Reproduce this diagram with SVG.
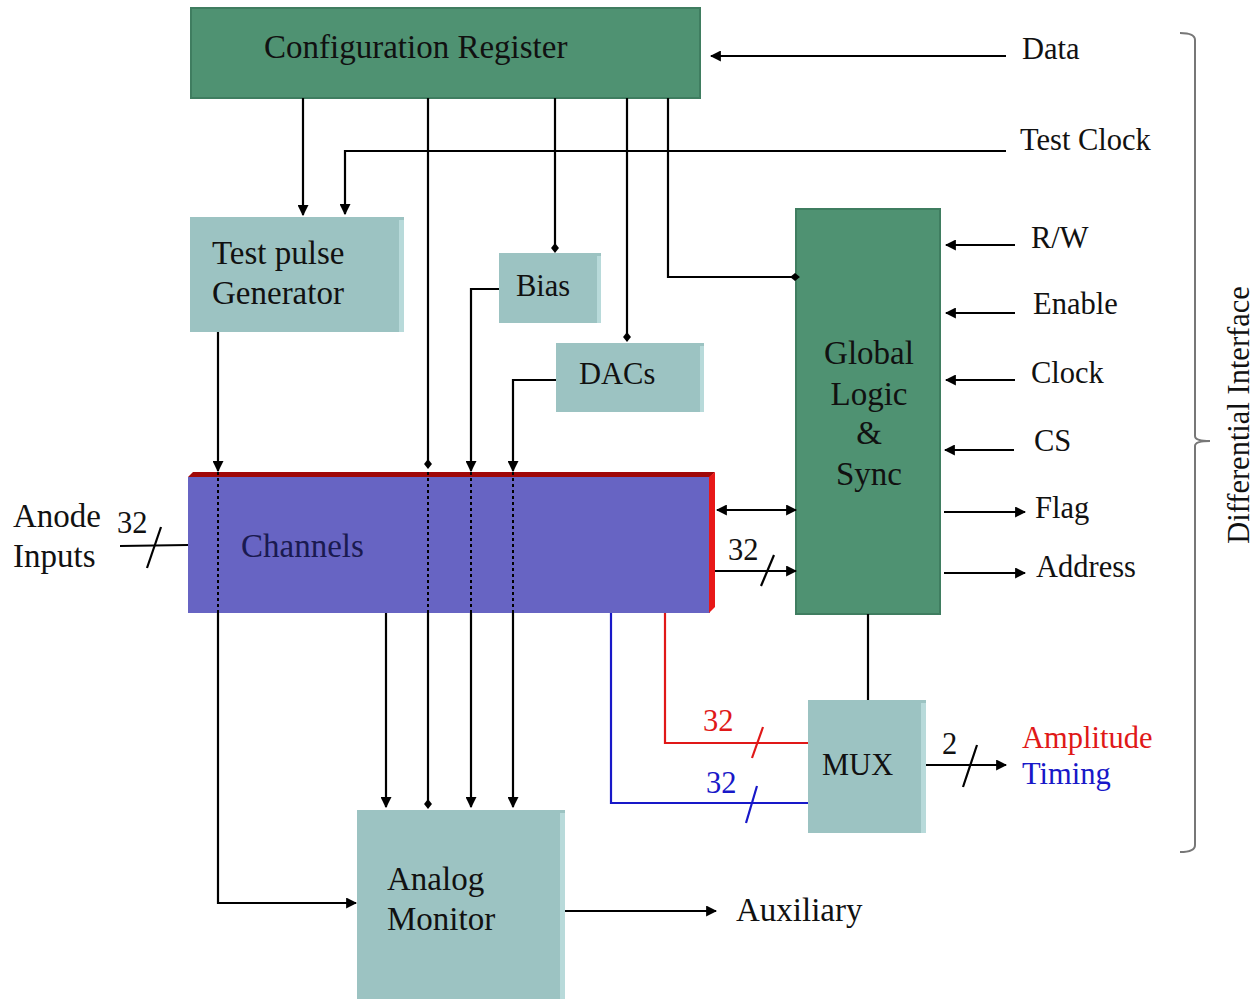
<svg xmlns="http://www.w3.org/2000/svg" width="1260" height="999" viewBox="0 0 1260 999">
<style>
text{font-family:"Liberation Serif","Times New Roman",serif;fill:#111;}
.lbl{font-size:30.5px;}
.big{font-size:33px;}
.green{fill:#4f9272;stroke:#3f7d60;stroke-width:2;}
.teal{fill:#9cc3c2;}
.bevel{fill:#b8dada;}
.ln{stroke:#000;stroke-width:2.2;fill:none;}
.dot{stroke:#000;stroke-width:2;fill:none;stroke-dasharray:3 3;}
.red{stroke:#e01818;stroke-width:2.2;fill:none;}
.blue{stroke:#1818c8;stroke-width:2.2;fill:none;}
</style>
<defs>
<marker id="ar" viewBox="0 0 10 10" refX="9" refY="5" markerWidth="5" markerHeight="5" orient="auto-start-reverse"><path d="M0,0 L10,5 L0,10 z" fill="#000"/></marker>
<marker id="dm" viewBox="0 0 10 10" refX="8" refY="5" markerWidth="4.5" markerHeight="4.5" orient="auto"><path d="M0,5 L5,1 L10,5 L5,9 z" fill="#000"/></marker>
</defs>
<rect width="1260" height="999" fill="#fff"/>

<g id="config">
<rect class="green" x="191" y="8" width="509" height="90"/>
<text class="big" x="264" y="58" style="font-size:33px">Configuration Register</text>
</g>

<g id="testpulse">
<rect class="teal" x="190" y="217" width="214" height="115"/>
<rect class="bevel" x="399" y="220" width="5" height="112"/>
<text class="big" x="212" y="264">Test pulse</text>
<text class="big" x="212" y="304">Generator</text>
</g>

<g id="bias">
<rect class="teal" x="499" y="253" width="102" height="70"/>
<rect class="bevel" x="597" y="256" width="4" height="67"/>
<text class="lbl" x="516" y="296">Bias</text>
</g>

<g id="dacs">
<rect class="teal" x="556" y="343" width="148" height="69"/>
<rect class="bevel" x="700" y="346" width="4" height="66"/>
<text class="lbl" x="579" y="384">DACs</text>
</g>

<g id="channels">
<rect x="188" y="477" width="522" height="136" fill="#6764c3"/>
<polygon points="188,477 193,472 715,472 710,477" fill="#a00808"/>
<polygon points="709,477 715,472 715,607 709,613" fill="#e81818"/>
<text class="big" x="241" y="557" style="fill:#1a1a50">Channels</text>
</g>

<g id="global">
<rect class="green" x="796" y="209" width="144" height="405"/>
<text class="big" x="869" y="364" text-anchor="middle">Global</text>
<text class="big" x="869" y="405" text-anchor="middle">Logic</text>
<text class="big" x="869" y="444" text-anchor="middle">&amp;</text>
<text class="big" x="869" y="485" text-anchor="middle">Sync</text>
</g>

<g id="mux">
<rect class="teal" x="808" y="700" width="118" height="133"/>
<rect class="bevel" x="921" y="703" width="5" height="130"/>
<text class="lbl" x="822" y="775">MUX</text>
</g>

<g id="analog">
<rect class="teal" x="357" y="810" width="208" height="189"/>
<rect class="bevel" x="560" y="813" width="5" height="186"/>
<text class="big" x="387" y="890">Analog</text>
<text class="big" x="387" y="930">Monitor</text>
</g>

<g id="connectors">
<line class="ln" x1="1006" y1="56" x2="711" y2="56" marker-end="url(#ar)"/>
<polyline class="ln" points="1006,151 345,151 345,214" marker-end="url(#ar)"/>
<line class="ln" x1="303" y1="98" x2="303" y2="215" marker-end="url(#ar)"/>
<line class="ln" x1="428" y1="98" x2="428" y2="467" marker-end="url(#dm)"/>
<line class="dot" x1="428" y1="472" x2="428" y2="613"/>
<line class="ln" x1="428" y1="613" x2="428" y2="807" marker-end="url(#dm)"/>
<line class="ln" x1="555" y1="98" x2="555" y2="251" marker-end="url(#dm)"/>
<line class="ln" x1="627" y1="98" x2="627" y2="340" marker-end="url(#dm)"/>
<polyline class="ln" points="668,98 668,277 798,277" marker-end="url(#dm)"/>
<line class="ln" x1="218" y1="332" x2="218" y2="471" marker-end="url(#ar)"/>
<line class="dot" x1="218" y1="472" x2="218" y2="613"/>
<polyline class="ln" points="218,613 218,903 356,903" marker-end="url(#ar)"/>
<polyline class="ln" points="499,289 471,289 471,471" marker-end="url(#ar)"/>
<line class="dot" x1="471" y1="472" x2="471" y2="613"/>
<line class="ln" x1="471" y1="613" x2="471" y2="807" marker-end="url(#ar)"/>
<polyline class="ln" points="556,380 513,380 513,471" marker-end="url(#ar)"/>
<line class="dot" x1="513" y1="472" x2="513" y2="613"/>
<line class="ln" x1="513" y1="613" x2="513" y2="807" marker-end="url(#ar)"/>
<line class="ln" x1="386" y1="613" x2="386" y2="807" marker-end="url(#ar)"/>
<line class="ln" x1="120" y1="546" x2="188" y2="545"/>
<line class="ln" x1="147" y1="568" x2="161" y2="527"/>
<line class="ln" x1="717" y1="510" x2="796" y2="510" marker-start="url(#ar)" marker-end="url(#ar)"/>
<line class="ln" x1="715" y1="571" x2="796" y2="571" marker-end="url(#ar)"/>
<line class="ln" x1="761" y1="586" x2="774" y2="555"/>
<line class="ln" x1="1015" y1="245" x2="946" y2="245" marker-end="url(#ar)"/>
<line class="ln" x1="1015" y1="313" x2="946" y2="313" marker-end="url(#ar)"/>
<line class="ln" x1="1015" y1="380" x2="946" y2="380" marker-end="url(#ar)"/>
<line class="ln" x1="1014" y1="450" x2="945" y2="450" marker-end="url(#ar)"/>
<line class="ln" x1="944" y1="512" x2="1025" y2="512" marker-end="url(#ar)"/>
<line class="ln" x1="944" y1="573" x2="1025" y2="573" marker-end="url(#ar)"/>
<line class="ln" x1="868" y1="614" x2="868" y2="700"/>
<polyline class="red" points="665,613 665,743 808,743"/>
<line class="red" x1="752" y1="758" x2="763" y2="727"/>
<polyline class="blue" points="611,613 611,803 808,803"/>
<line class="blue" x1="746" y1="823" x2="757" y2="786"/>
<line class="ln" x1="926" y1="765" x2="1006" y2="765" marker-end="url(#ar)"/>
<line class="ln" x1="963" y1="787" x2="977" y2="745"/>
<line class="ln" x1="565" y1="911" x2="716" y2="911" marker-end="url(#ar)"/>
<path d="M1180,33 Q1195,33 1195,40 L1195,436 Q1195,441 1210,441 Q1195,441 1195,446 L1195,845 Q1195,852 1180,852" fill="none" stroke="#777" stroke-width="2"/>
</g>

<g id="labels">
<text class="lbl" x="1022" y="59">Data</text>
<text class="lbl" x="1020" y="150">Test Clock</text>
<text class="lbl" x="1031" y="248">R/W</text>
<text class="lbl" x="1033" y="314">Enable</text>
<text class="lbl" x="1031" y="383">Clock</text>
<text class="lbl" x="1034" y="451">CS</text>
<text class="lbl" x="1035" y="518">Flag</text>
<text class="lbl" x="1036" y="577">Address</text>
<text class="big" x="13" y="527">Anode</text>
<text class="big" x="13" y="567">Inputs</text>
<text class="lbl" x="117" y="533">32</text>
<text class="lbl" x="728" y="560">32</text>
<text class="lbl" x="703" y="731" style="fill:#e01818">32</text>
<text class="lbl" x="706" y="793" style="fill:#1818c8">32</text>
<text class="lbl" x="942" y="754">2</text>
<text class="lbl" x="1022" y="748" style="fill:#e01818">Amplitude</text>
<text class="lbl" x="1022" y="784" style="fill:#1818c8">Timing</text>
<text class="big" x="736" y="921">Auxiliary</text>
<text class="lbl" x="1249" y="415" text-anchor="middle" transform="rotate(-90 1249 415)">Differential Interface</text>
</g>
</svg>
